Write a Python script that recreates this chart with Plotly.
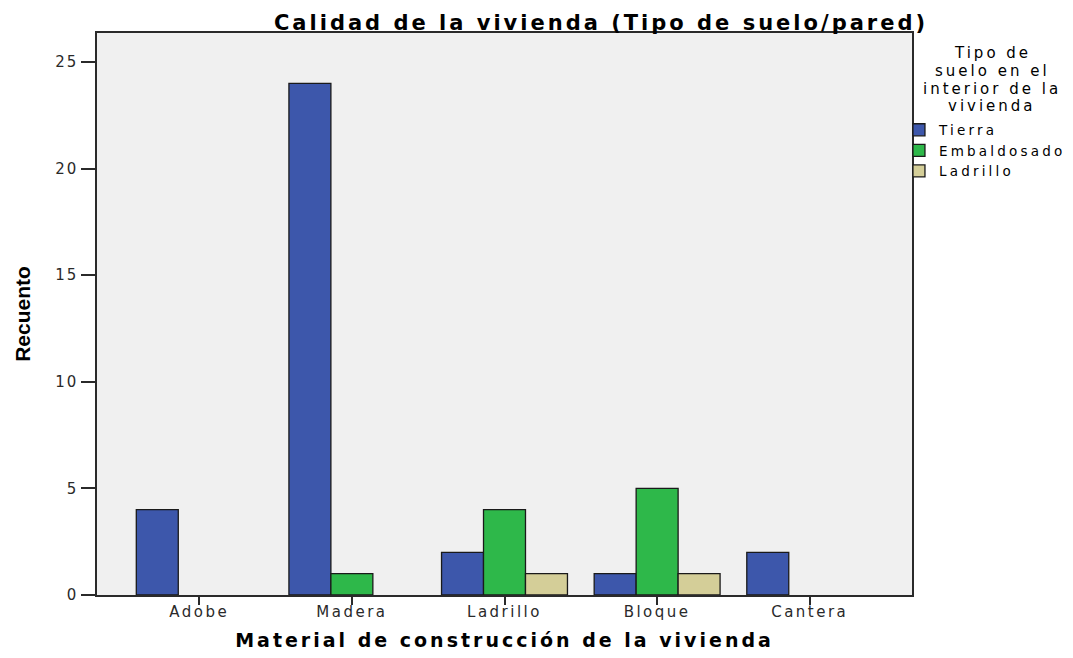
import plotly.graph_objects as go

# Data
materiales = ["Adobe", "Madera", "Ladrillo", "Bloque", "Cantera"]
tierra = [4, 24, 2, 1, 2]
embaldosado = [None, 1, 4, 5, None]
ladrillo = [None, None, 1, 1, None]

series_names = ["Tierra", "Embaldosado", "Ladrillo"]
series_colors = ["#3D57AB", "#2EB84A", "#D4CE98"]

y_ticks = [0, 5, 10, 15, 20, 25]
legend_title_lines = ["Tipo de", "suelo en el", "interior de la", "vivienda"]

font_family = "DejaVu Sans, Verdana, sans-serif"

# the page body has an 8px margin, so the figure is a bit smaller than the window
W, H = 1065, 650
L, T = 89, 25          # plot area left / top inside the figure
PW, PH = 815, 562      # plot area size


# The original (SPSS) export is stretched sideways, so widen the text a bit
def spaced(text, px):
    return f'<span style="letter-spacing:{px}px">{text}</span>'


fig = go.Figure()
for name, values, color in zip(series_names, [tierra, embaldosado, ladrillo], series_colors):
    fig.add_trace(
        go.Bar(
            x=materiales,
            y=values,
            name=spaced(name, 3.2),
            marker=dict(color=color, line=dict(color="#1a1a1a", width=1.3)),
        )
    )

fig.update_layout(
    width=W,
    height=H,
    barmode="group",
    bargap=0.175,
    bargroupgap=0,
    paper_bgcolor="white",
    plot_bgcolor="#F0F0F0",
    margin=dict(l=L, r=W - L - PW, t=T, b=H - T - PH, autoexpand=False),
    font=dict(family=font_family, color="#222"),
    title=dict(
        text="<b>" + spaced("Calidad de la vivienda (Tipo de suelo/pared)", 3) + "</b>",
        x=593 / W,
        xanchor="center",
        y=1 - 15 / H,
        yanchor="middle",
        font=dict(size=21, color="black"),
    ),
    legend=dict(
        x=0.984,
        xanchor="left",
        y=1 - (114.5 - 33) / PH,
        yanchor="top",
        font=dict(size=13.5, color="black"),
        itemwidth=30,
        tracegroupgap=0,
        bgcolor="rgba(0,0,0,0)",
    ),
    showlegend=True,
)

# legend title, one line per annotation to get the tight line pitch of the original
for i, line in enumerate(legend_title_lines):
    fig.add_annotation(
        text=spaced(line, 3),
        xref="paper",
        yref="paper",
        x=(992 - 97) / PW,
        y=1 - (53 + i * 17.8 - 33) / PH,
        xanchor="center",
        yanchor="middle",
        showarrow=False,
        font=dict(size=15, color="black"),
    )

fig.update_xaxes(
    range=[-0.67, 4.67],
    tickvals=materiales,
    ticktext=[spaced(m, 2.5) for m in materiales],
    showline=True,
    linecolor="#2a2a2a",
    linewidth=1.5,
    mirror=True,
    ticks="outside",
    ticklen=8,
    tickcolor="#2a2a2a",
    tickwidth=1.5,
    ticklabelstandoff=-6,
    showgrid=False,
    automargin=False,
    tickfont=dict(size=15, color="#2a2a2a"),
    title=dict(
        text="<b>" + spaced("Material de construcción de la vivienda", 3) + "</b>",
        font=dict(size=19, color="black"),
        standoff=14,
    ),
)

fig.update_yaxes(
    range=[0, 26.36],
    tickvals=y_ticks,
    ticktext=[spaced(str(v), 2) for v in y_ticks],
    showline=True,
    linecolor="#2a2a2a",
    linewidth=1.5,
    mirror=True,
    ticks="outside",
    ticklen=14,
    tickcolor="#2a2a2a",
    tickwidth=1.5,
    showgrid=False,
    zeroline=False,
    automargin=False,
    tickfont=dict(size=15, color="#2a2a2a"),
    title=dict(
        text="<b>Recuento</b>",
        font=dict(size=21, color="black", family="Liberation Sans, Arial, sans-serif"),
        standoff=19,
    ),
)

fig.write_html("out.html")
